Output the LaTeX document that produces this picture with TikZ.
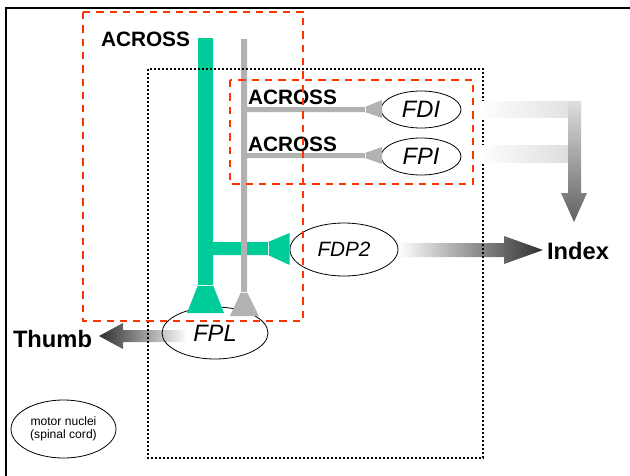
\documentclass[tikz,border=0pt]{standalone}
\usepackage{fontspec}
\setmainfont{Liberation Sans}
\usetikzlibrary{shapes.geometric}
\definecolor{nervegreen}{RGB}{0,204,153}
\definecolor{tractgray}{RGB}{178,178,178}
\definecolor{boxred}{RGB}{255,51,0}
\pgfdeclarelayer{background}
\pgfsetlayers{background,main}
\begin{document}
\begin{tikzpicture}[x=1pt,y=-1pt,
  muscle/.style={ellipse, draw, line width=0.8pt, inner sep=0pt},
  musclelabel/.style={font=\fontsize{23.7}{26}\selectfont\itshape},
  acrosslabel/.style={font=\fontsize{20.8}{24}\selectfont\bfseries, inner sep=0pt},
  digitlabel/.style={font=\fontsize{23.7}{26}\selectfont\bfseries, inner sep=0pt},
  redbox/.style={draw=boxred, line width=2pt, dash pattern=on 7.3pt off 6pt},
  nucleusbox/.style={draw=black, line width=2.2pt, dash pattern=on 2.2pt off 1.8pt}]
\useasboundingbox (0,0) rectangle (630,475);

% outer frame (only its left and top edges fall inside the page)
\draw[line width=2.4pt] (6,8) rectangle (660,500);

% motor pools
\node[muscle, minimum width=80pt, minimum height=37pt, musclelabel] (fdi) at (421,109.5) {FDI};
\node[muscle, minimum width=80pt, minimum height=37pt, musclelabel] (fpi) at (421,156.5) {FPI};
\node[muscle, minimum width=108pt, minimum height=53pt,
      font=\fontsize{20.7}{24}\selectfont\itshape] (fdp) at (344,249.5) {FDP2};
\node[muscle, minimum width=106pt, minimum height=52pt, musclelabel] (fpl) at (215,333) {FPL};
\node[muscle, minimum width=105pt, minimum height=58pt, align=center,
      font=\fontsize{12.1}{13.5}\selectfont] (motor) at (63.5,429) {motor nuclei\\(spinal cord)};

% outputs to the digits
\node[digitlabel, anchor=base] (thumb) at (52.5,347) {Thumb};
\node[digitlabel, anchor=base] (index) at (578,259) {Index};
\coordinate (thumbtip) at (99,336);
\coordinate (indextip) at (543,250);
\begin{pgfonlayer}{background}
\shade[left color=black!82, right color=white]
  (thumbtip) -- (123,323) -- (123,330) -- (187,330) -- (187,342)
  -- (123,342) -- (123,349) -- cycle;
\shade[left color=white, right color=black!82]
  (398,243) -- (504,243) -- (504,236) -- (indextip) -- (504,264)
  -- (504,257) -- (398,257) -- cycle;
\end{pgfonlayer}

% green corticospinal branch
\fill[nervegreen]
  (198,38) rectangle (213,286)
  (198,285) -- (213,285) -- (224,313) -- (187,313) -- cycle
  (212,242) rectangle (269,255)
  (268,242) -- (fdp.west |- 0,233) -- (fdp.west |- 0,265) -- (268,255) -- cycle;

% gray branch
\fill[tractgray]
  (241,39) rectangle (247,293)
  (241,292) -- (247,292) -- (259,316) -- (230,316) -- cycle
  (246,107) rectangle (366,112)
  (365,107) -- (382,100) -- (382,118) -- (365,112) -- cycle
  (246,153) rectangle (366,158)
  (365,153) -- (382,147) -- (382,164) -- (365,158) -- cycle;

\node[acrosslabel, anchor=base] (across0) at (145.5,46) {ACROSS};
\node[acrosslabel, anchor=base] (across1) at (292.5,104) {ACROSS};
\node[acrosslabel, anchor=base] (across2) at (292.5,151) {ACROSS};

% motor nuclei region
\draw[nucleusbox] (148,69) rectangle (483,458);

% FDI and FPI outputs joining towards the index
\shade[left color=white, right color=black!13] (477,101) rectangle (581,117);
\shade[left color=white, right color=black!13] (477,145) rectangle (568,162);
\shade[top color=black!13, bottom color=black!62]
  (568,101) -- (581,101) -- (581,193) -- (587,193) -- (574,222)
  -- (561,193) -- (568,193) -- cycle;

% groupings
\draw[redbox] (83,12) rectangle (303,321);
\draw[redbox] (230,80) rectangle (473,184);
\end{tikzpicture}
\end{document}
